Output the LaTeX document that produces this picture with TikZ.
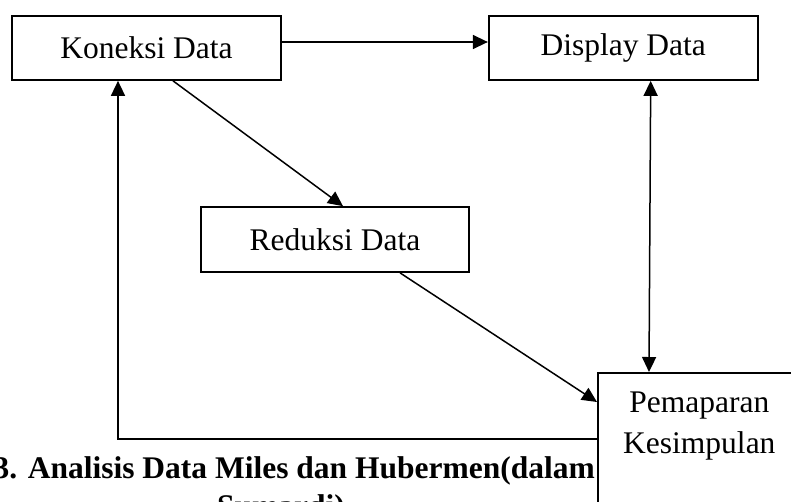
\documentclass[tikz,border=0pt]{standalone}
\usepackage{fontspec}
\setmainfont{Liberation Serif}
\usetikzlibrary{arrows.meta,positioning}

\tikzset{
  box/.style={draw, rectangle, fill=white, line width=1.7pt, inner sep=0pt,
    font=\fontsize{31.5}{41}\selectfont},
  arr/.style={line width=1.5pt, -{Triangle[length=15pt,width=14pt]}},
  darr/.style={line width=1.5pt,
    {Triangle[length=15pt,width=14pt]}-{Triangle[length=15pt,width=14pt]}},
  captext/.style={inner sep=0pt, font=\fontsize{31.5}{41}\selectfont\bfseries}
}

\begin{document}
\begin{tikzpicture}[x=1pt,y=-1pt]
    \useasboundingbox (0,0) rectangle (791,501);
    \clip (0,0) rectangle (791,501);

    % caption under the flow
    \node[captext, anchor=base east] (cap1) at (595,478) {3. Analisis Data Miles dan Hubermen(dalam};
    \node[captext, anchor=base] (cap2) at (281,516) {Sumardi)};

    \node[box, minimum width=269pt, minimum height=64pt] (koneksi) at (146.5,48) {Koneksi Data};
    \node[box, minimum width=269pt, minimum height=64pt, right=206pt of koneksi] (display) {Display Data};
    \node[box, minimum width=268pt, minimum height=65pt] (reduksi) at (335,239.5) {Reduksi Data};
    \node[box, anchor=north west, minimum width=203pt, align=center,
          text height=81pt, text depth=70pt] (pemaparan) at (597,372) {Pemaparan\\Kesimpulan};

    \draw[arr] ([yshift=6pt]koneksi.east) -- ([yshift=6pt]display.west);
    \draw[arr] ([xshift=26.5pt]koneksi.south) -- ([xshift=8pt]reduksi.north);
    \draw[arr] ([xshift=65pt]reduksi.south) -- ([yshift=-30pt]pemaparan.north west);
    \draw[darr] ([xshift=27.5pt]display.south) -- ([xshift=52pt]pemaparan.north west);
    \draw[arr] ([yshift=-67pt]pemaparan.north west) -| ([xshift=-28.5pt]koneksi.south);
\end{tikzpicture}
\end{document}
